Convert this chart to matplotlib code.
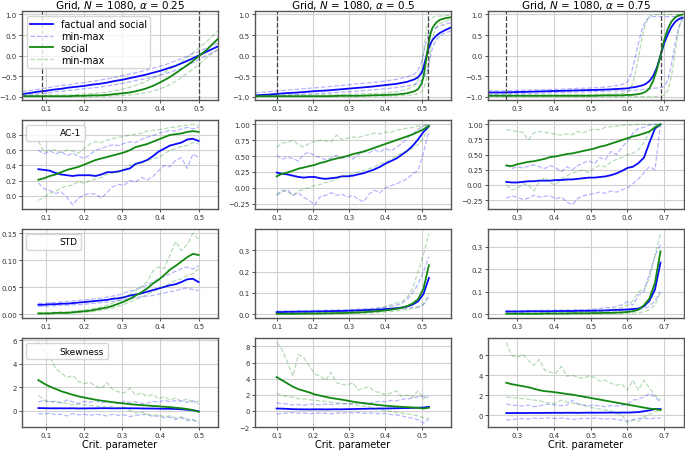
import matplotlib
matplotlib.use("Agg")
import matplotlib.pyplot as plt
import numpy as np
from matplotlib.lines import Line2D

ALPHAS = ["0.25", "0.5", "0.75"]
METRICS = ["AC-1", "STD", "Skewness"]

# x grids (row 1 has its own, rows 2-4 share one per column)
x_top_c1 = [0.037, 0.06, 0.08, 0.1, 0.12, 0.14, 0.16, 0.18, 0.2, 0.22, 0.24, 0.26, 0.28,
            0.3, 0.32, 0.34, 0.36, 0.38, 0.4, 0.42, 0.44, 0.46, 0.48, 0.5, 0.52, 0.55]
x_top_c2 = [0.04, 0.08, 0.12, 0.16, 0.2, 0.24, 0.28, 0.32, 0.36, 0.4, 0.43, 0.46, 0.48,
            0.49, 0.5, 0.505, 0.51, 0.515, 0.52, 0.525, 0.53, 0.54, 0.55, 0.565, 0.58]
x_top_c3 = [0.22, 0.26, 0.3, 0.34, 0.38, 0.42, 0.46, 0.5, 0.54, 0.58, 0.6, 0.61, 0.62,
            0.63, 0.64, 0.65, 0.66, 0.67, 0.68, 0.69, 0.7, 0.71, 0.72, 0.73, 0.74, 0.75]
x_c1 = np.linspace(0.08, 0.5, 29)
x_c2 = np.linspace(0.1, 0.52, 29)
x_c3 = np.linspace(0.27, 0.69, 29)

# critical points (dashed verticals in the top row)
crit_c1 = [0.09, 0.5]
crit_c2 = [0.1, 0.517]
crit_c3 = [0.27, 0.692]

# ---- column 1, alpha = 0.25 ----
c1_state_fs = [-0.94, -0.91, -0.88, -0.86, -0.83, -0.81, -0.78, -0.76, -0.74, -0.71, -0.69, -0.66, -0.62,
               -0.59, -0.55, -0.51, -0.47, -0.42, -0.37, -0.31, -0.25, -0.17, -0.09, 0.0, 0.09, 0.22]
c1_state_fs_hi = [-0.88, -0.85, -0.82, -0.79, -0.76, -0.73, -0.71, -0.68, -0.66, -0.63, -0.6, -0.57, -0.53,
                  -0.49, -0.45, -0.41, -0.36, -0.31, -0.26, -0.2, -0.13, -0.06, 0.03, 0.1, 0.18, 0.3]
c1_state_fs_lo = [-0.98, -0.96, -0.93, -0.92, -0.89, -0.87, -0.85, -0.83, -0.81, -0.79, -0.77, -0.74, -0.71,
                  -0.68, -0.64, -0.6, -0.57, -0.52, -0.48, -0.42, -0.36, -0.29, -0.2, -0.1, 0.0, 0.13]
c1_state_s = [-0.99, -0.99, -0.99, -0.99, -0.99, -0.99, -0.99, -0.98, -0.98, -0.97, -0.97, -0.96, -0.94,
              -0.92, -0.9, -0.86, -0.81, -0.74, -0.65, -0.55, -0.43, -0.3, -0.17, -0.02, 0.13, 0.4]
c1_state_s_hi = [-0.97, -0.97, -0.97, -0.97, -0.96, -0.96, -0.96, -0.95, -0.94, -0.93, -0.91, -0.89, -0.86,
                 -0.82, -0.77, -0.71, -0.64, -0.55, -0.46, -0.36, -0.25, -0.12, 0.02, 0.18, 0.33, 0.6]
c1_state_s_lo = [-1.0, -1.0, -1.0, -1.0, -1.0, -1.0, -1.0, -1.0, -1.0, -1.0, -0.99, -0.99, -0.98,
                 -0.97, -0.96, -0.94, -0.91, -0.87, -0.81, -0.73, -0.63, -0.5, -0.37, -0.22, -0.06, 0.15]

c1_ac1_fs = [0.35, 0.34, 0.33, 0.30, 0.28, 0.27, 0.26, 0.27, 0.27, 0.27, 0.26, 0.28, 0.31, 0.31, 0.32,
             0.34, 0.36, 0.42, 0.44, 0.47, 0.52, 0.58, 0.62, 0.66, 0.68, 0.70, 0.74, 0.75, 0.72]
c1_ac1_fs_hi = [0.6, 0.55, 0.59, 0.55, 0.58, 0.53, 0.56, 0.52, 0.49, 0.54, 0.60, 0.62, 0.65, 0.67, 0.66,
                0.69, 0.71, 0.70, 0.74, 0.77, 0.79, 0.82, 0.84, 0.86, 0.85, 0.88, 0.90, 0.88, 0.9]
c1_ac1_fs_lo = [0.17, 0.09, 0.07, 0.03, 0.05, -0.02, -0.12, -0.03, 0.01, 0.03, 0.02, -0.03, 0.04, 0.12, 0.15,
                0.14, 0.2, 0.18, 0.24, 0.21, 0.25, 0.33, 0.4, 0.38, 0.47, 0.5, 0.36, 0.55, 0.5]
c1_ac1_s = [0.21, 0.23, 0.26, 0.28, 0.31, 0.34, 0.36, 0.38, 0.41, 0.44, 0.47, 0.49, 0.51, 0.53, 0.55,
            0.57, 0.60, 0.64, 0.66, 0.68, 0.71, 0.74, 0.77, 0.80, 0.81, 0.82, 0.84, 0.85, 0.84]
c1_ac1_s_hi = [0.72, 0.58, 0.6, 0.6, 0.57, 0.6, 0.59, 0.56, 0.62, 0.68, 0.71, 0.70, 0.73, 0.75, 0.77,
               0.78, 0.80, 0.81, 0.82, 0.85, 0.86, 0.87, 0.88, 0.90, 0.90, 0.92, 0.93, 0.94, 0.92]
c1_ac1_s_lo = [-0.06, -0.02, 0.03, 0.06, 0.1, 0.13, 0.14, 0.19, 0.16, 0.2, 0.22, 0.24, 0.28, 0.3, 0.31,
               0.35, 0.4, 0.42, 0.43, 0.46, 0.49, 0.5, 0.55, 0.6, 0.62, 0.65, 0.66, 0.7, 0.68]

c1_std_fs = [0.018, 0.018, 0.019, 0.019, 0.020, 0.020, 0.021, 0.022, 0.023, 0.024, 0.025, 0.026, 0.027, 0.029, 0.030,
             0.032, 0.035, 0.037, 0.039, 0.042, 0.045, 0.048, 0.051, 0.054, 0.056, 0.060, 0.065, 0.066, 0.060]
c1_std_fs_hi = [0.021, 0.020, 0.022, 0.022, 0.023, 0.024, 0.025, 0.026, 0.027, 0.028, 0.029, 0.030, 0.032, 0.034, 0.036,
                0.040, 0.043, 0.046, 0.050, 0.055, 0.060, 0.066, 0.070, 0.075, 0.080, 0.085, 0.088, 0.084, 0.090]
c1_std_fs_lo = [0.015, 0.015, 0.016, 0.016, 0.017, 0.017, 0.018, 0.018, 0.019, 0.020, 0.021, 0.022, 0.023, 0.024, 0.026,
                0.028, 0.029, 0.031, 0.033, 0.034, 0.035, 0.038, 0.040, 0.042, 0.044, 0.047, 0.049, 0.046, 0.044]
c1_std_s = [0.002, 0.002, 0.002, 0.003, 0.003, 0.003, 0.004, 0.005, 0.006, 0.007, 0.009, 0.011, 0.013, 0.016, 0.020,
            0.024, 0.029, 0.035, 0.041, 0.048, 0.057, 0.064, 0.073, 0.083, 0.090, 0.098, 0.106, 0.112, 0.110]
c1_std_s_hi = [0.003, 0.003, 0.004, 0.004, 0.005, 0.005, 0.006, 0.007, 0.008, 0.010, 0.012, 0.014, 0.017, 0.021, 0.026,
               0.031, 0.037, 0.045, 0.052, 0.060, 0.080, 0.088, 0.085, 0.110, 0.135, 0.118, 0.130, 0.150, 0.140]
c1_std_s_lo = [0.001, 0.001, 0.001, 0.002, 0.002, 0.002, 0.003, 0.003, 0.004, 0.005, 0.006, 0.008, 0.010, 0.012, 0.015,
               0.019, 0.023, 0.028, 0.032, 0.037, 0.042, 0.047, 0.052, 0.058, 0.063, 0.066, 0.072, 0.075, 0.085]

c1_skew_fs = [0.22, 0.21, 0.2, 0.2, 0.2, 0.2, 0.2, 0.19, 0.19, 0.2, 0.2, 0.21, 0.21, 0.2, 0.2,
              0.21, 0.2, 0.2, 0.19, 0.18, 0.18, 0.17, 0.16, 0.16, 0.14, 0.12, 0.08, 0.03, -0.05]
c1_skew_fs_hi = [0.75, 0.85, 0.7, 0.8, 0.65, 0.9, 0.75, 0.6, 0.8, 0.7, 0.85, 0.65, 0.75, 0.7, 0.6,
                 0.8, 0.7, 0.75, 0.6, 0.65, 0.8, 0.7, 0.9, 0.75, 0.85, 0.8, 0.7, 0.85, 0.55]
c1_skew_fs_lo = [-0.25, -0.3, -0.2, -0.35, -0.3, -0.45, -0.25, -0.35, -0.3, -0.4, -0.3, -0.35, -0.45, -0.3, -0.4,
                 -0.35, -0.5, -0.4, -0.35, -0.3, -0.5, -0.45, -0.6, -0.55, -0.75, -0.6, -0.85, -0.75, -1.05]
c1_skew_s = [2.6, 2.3, 2.05, 1.85, 1.65, 1.5, 1.35, 1.22, 1.12, 1.02, 0.93, 0.85, 0.79, 0.72, 0.66,
             0.61, 0.55, 0.51, 0.47, 0.44, 0.4, 0.37, 0.33, 0.3, 0.25, 0.2, 0.14, 0.05, -0.1]
c1_skew_s_hi = [5.8, 5.0, 4.6, 3.6, 3.2, 2.8, 3.0, 2.5, 2.3, 2.4, 2.1, 1.9, 2.4, 1.8, 1.6,
                1.5, 1.9, 1.3, 1.5, 1.2, 1.4, 1.0, 1.2, 0.9, 1.1, 0.8, 1.0, 0.7, 0.8]
c1_skew_s_lo = [1.3, 0.9, 0.8, 0.75, 0.7, 0.6, 0.5, 0.55, 0.5, 0.45, 0.4, 0.35, 0.3, 0.35, 0.25,
                0.3, 0.0, -0.2, -0.1, -0.3, -0.4, -0.35, -0.5, -0.45, -0.6, -0.55, -0.7, -0.8, -0.95]

# ---- column 2, alpha = 0.5 ----
c2_state_fs = [-0.97, -0.95, -0.92, -0.9, -0.87, -0.85, -0.82, -0.79, -0.76, -0.72, -0.69, -0.64, -0.58,
               -0.53, -0.42, -0.3, -0.12, 0.05, 0.2, 0.3, 0.38, 0.48, 0.55, 0.62, 0.68]
c2_state_fs_hi = [-0.91, -0.88, -0.85, -0.82, -0.79, -0.76, -0.73, -0.69, -0.66, -0.62, -0.58, -0.52, -0.45,
                  -0.36, -0.15, 0.05, 0.25, 0.42, 0.52, 0.58, 0.62, 0.68, 0.72, 0.76, 0.8]
c2_state_fs_lo = [-1.0, -0.99, -0.97, -0.95, -0.93, -0.91, -0.89, -0.87, -0.84, -0.81, -0.78, -0.74, -0.7,
                  -0.66, -0.6, -0.55, -0.48, -0.38, -0.2, 0.0, 0.2, 0.38, 0.48, 0.55, 0.6]
c2_state_s = [-0.99, -0.99, -0.99, -0.99, -0.99, -0.99, -0.98, -0.98, -0.97, -0.96, -0.95, -0.92, -0.87,
              -0.82, -0.68, -0.52, -0.25, 0.05, 0.35, 0.55, 0.68, 0.8, 0.87, 0.91, 0.93]
c2_state_s_hi = [-0.97, -0.97, -0.97, -0.96, -0.96, -0.95, -0.95, -0.94, -0.93, -0.91, -0.88, -0.82, -0.74,
                 -0.6, -0.3, 0.05, 0.45, 0.72, 0.85, 0.9, 0.93, 0.95, 0.96, 0.97, 0.98]
c2_state_s_lo = [-1.0, -1.0, -1.0, -1.0, -1.0, -1.0, -1.0, -1.0, -0.99, -0.99, -0.98, -0.97, -0.95,
                 -0.93, -0.88, -0.82, -0.7, -0.45, -0.1, 0.2, 0.45, 0.68, 0.78, 0.84, 0.87]

c2_ac1_fs = [0.24, 0.22, 0.21, 0.19, 0.17, 0.16, 0.17, 0.17, 0.15, 0.14, 0.15, 0.16, 0.18, 0.18, 0.19,
             0.21, 0.23, 0.26, 0.29, 0.33, 0.38, 0.42, 0.46, 0.52, 0.58, 0.66, 0.76, 0.88, 0.97]
c2_ac1_fs_hi = [0.51, 0.45, 0.48, 0.46, 0.42, 0.53, 0.56, 0.50, 0.48, 0.44, 0.47, 0.51, 0.46, 0.50, 0.45,
                0.52, 0.58, 0.55, 0.60, 0.56, 0.62, 0.58, 0.63, 0.70, 0.78, 0.85, 0.92, 0.97, 1.0]
c2_ac1_fs_lo = [-0.12, -0.06, -0.03, -0.12, -0.08, -0.15, -0.2, -0.27, -0.14, -0.12, -0.08, -0.12, -0.1, -0.15, -0.12,
                -0.18, -0.22, -0.1, -0.04, -0.08, 0.0, 0.03, 0.06, 0.1, 0.14, 0.22, 0.27, 0.55, 0.9]
c2_ac1_s = [0.18, 0.22, 0.24, 0.27, 0.30, 0.32, 0.34, 0.36, 0.39, 0.41, 0.44, 0.46, 0.48, 0.50, 0.53,
            0.55, 0.57, 0.60, 0.63, 0.66, 0.69, 0.72, 0.75, 0.78, 0.81, 0.84, 0.88, 0.92, 0.98]
c2_ac1_s_hi = [0.64, 0.70, 0.72, 0.75, 0.68, 0.64, 0.70, 0.73, 0.75, 0.74, 0.72, 0.83, 0.76, 0.78, 0.80,
               0.79, 0.82, 0.84, 0.86, 0.85, 0.88, 0.87, 0.91, 0.92, 0.94, 0.95, 0.97, 0.98, 1.0]
c2_ac1_s_lo = [-0.11, -0.04, -0.06, -0.12, -0.05, -0.02, 0.0, 0.04, 0.05, 0.08, 0.10, 0.14, 0.18, 0.20, 0.22,
               0.25, 0.27, 0.30, 0.33, 0.38, 0.40, 0.45, 0.50, 0.55, 0.58, 0.62, 0.68, 0.78, 0.97]

c2_std_fs = [0.010, 0.010, 0.011, 0.011, 0.012, 0.012, 0.012, 0.013, 0.013, 0.014, 0.014, 0.015, 0.015, 0.016, 0.017,
             0.018, 0.019, 0.020, 0.021, 0.022, 0.024, 0.026, 0.028, 0.031, 0.036, 0.045, 0.06, 0.095, 0.17]
c2_std_fs_hi = [0.014, 0.014, 0.015, 0.015, 0.016, 0.016, 0.017, 0.017, 0.018, 0.018, 0.019, 0.02, 0.02, 0.021, 0.022,
                0.023, 0.025, 0.026, 0.028, 0.03, 0.033, 0.038, 0.042, 0.05, 0.07, 0.1, 0.14, 0.2, 0.27]
c2_std_fs_lo = [0.007, 0.007, 0.007, 0.008, 0.008, 0.008, 0.009, 0.009, 0.010, 0.010, 0.011, 0.011, 0.012, 0.012, 0.013,
                0.014, 0.015, 0.016, 0.017, 0.018, 0.02, 0.022, 0.024, 0.026, 0.028, 0.032, 0.035, 0.045, 0.08]
c2_std_s = [0.002, 0.002, 0.002, 0.002, 0.002, 0.003, 0.003, 0.003, 0.003, 0.004, 0.004, 0.005, 0.005, 0.006, 0.007,
            0.008, 0.009, 0.011, 0.013, 0.015, 0.018, 0.021, 0.025, 0.03, 0.038, 0.05, 0.07, 0.12, 0.23]
c2_std_s_hi = [0.003, 0.003, 0.003, 0.004, 0.004, 0.004, 0.005, 0.005, 0.006, 0.006, 0.007, 0.008, 0.009, 0.01, 0.012,
               0.014, 0.016, 0.018, 0.022, 0.03, 0.035, 0.045, 0.052, 0.058, 0.08, 0.12, 0.2, 0.28, 0.38]
c2_std_s_lo = [0.001, 0.001, 0.001, 0.001, 0.001, 0.001, 0.001, 0.002, 0.002, 0.002, 0.002, 0.003, 0.003, 0.003, 0.004,
               0.004, 0.005, 0.006, 0.007, 0.008, 0.01, 0.012, 0.015, 0.018, 0.022, 0.027, 0.03, 0.045, 0.1]

c2_skew_fs = [0.3, 0.28, 0.25, 0.22, 0.2, 0.2, 0.19, 0.2, 0.2, 0.19, 0.2, 0.21, 0.2, 0.22, 0.23,
              0.25, 0.26, 0.28, 0.28, 0.3, 0.3, 0.32, 0.33, 0.35, 0.36, 0.38, 0.4, 0.42, 0.5]
c2_skew_fs_hi = [1.0, 0.9, 0.85, 0.75, 0.8, 0.7, 0.85, 0.8, 0.75, 0.85, 0.8, 0.9, 0.85, 0.95, 0.9,
                 1.0, 1.05, 0.95, 1.1, 1.2, 1.15, 1.3, 1.25, 1.45, 1.5, 1.6, 1.75, 1.8, 1.7]
c2_skew_fs_lo = [-0.4, -0.3, -0.25, -0.2, -0.3, -0.25, -0.35, -0.3, -0.25, -0.3, -0.35, -0.25, -0.3, -0.2, -0.25,
                 -0.2, -0.3, -0.25, -0.3, -0.35, -0.3, -0.45, -0.5, -0.6, -0.8, -0.9, -1.1, -1.5, -1.0]
c2_skew_s = [4.2, 3.8, 3.4, 3.0, 2.7, 2.5, 2.3, 2.05, 1.9, 1.75, 1.6, 1.5, 1.4, 1.28, 1.15,
             1.05, 0.95, 0.88, 0.8, 0.72, 0.65, 0.6, 0.55, 0.5, 0.47, 0.43, 0.38, 0.3, 0.4]
c2_skew_s_hi = [8.5, 7.6, 6.0, 4.3, 7.0, 6.6, 5.6, 4.6, 4.3, 3.8, 4.8, 3.5, 3.3, 3.2, 3.5,
                2.6, 2.8, 3.0, 2.4, 2.3, 2.0, 2.2, 2.5, 1.8, 2.0, 1.7, 2.5, 1.5, 1.8]
c2_skew_s_lo = [2.2, 1.9, 1.8, 1.7, 1.5, 1.5, 1.4, 1.3, 1.25, 1.2, 1.1, 1.0, 0.95, 0.85, 0.8,
                0.7, 0.6, 0.5, 0.3, 0.2, 0.0, -0.05, -0.2, -0.3, -0.35, -0.5, -0.6, -0.85, -0.9]

# ---- column 3, alpha = 0.75 ----
c3_state_fs = [-0.9, -0.9, -0.89, -0.88, -0.87, -0.86, -0.85, -0.84, -0.83, -0.81, -0.8, -0.78, -0.77,
               -0.75, -0.73, -0.69, -0.62, -0.5, -0.3, 0.0, 0.3, 0.52, 0.7, 0.82, 0.89, 0.92]
c3_state_fs_hi = [-0.86, -0.86, -0.85, -0.84, -0.83, -0.82, -0.8, -0.79, -0.77, -0.72, -0.65, -0.45, -0.1,
                  0.3, 0.65, 0.85, 0.93, 0.95, 0.95, 0.95, 0.95, 0.95, 0.95, 0.95, 0.95, 0.95]
c3_state_fs_lo = [-0.95, -0.94, -0.93, -0.92, -0.91, -0.9, -0.89, -0.88, -0.87, -0.86, -0.86, -0.85, -0.84,
                  -0.84, -0.83, -0.82, -0.81, -0.8, -0.79, -0.78, -0.76, -0.6, -0.2, 0.3, 0.7, 0.9]
c3_state_s = [-0.98, -0.98, -0.98, -0.98, -0.98, -0.98, -0.98, -0.98, -0.97, -0.97, -0.96, -0.96, -0.95,
              -0.94, -0.92, -0.88, -0.8, -0.62, -0.35, 0.0, 0.38, 0.65, 0.83, 0.93, 0.98, 1.0]
c3_state_s_hi = [-0.96, -0.96, -0.96, -0.96, -0.96, -0.96, -0.95, -0.95, -0.94, -0.93, -0.9, -0.78, -0.5,
                 -0.05, 0.45, 0.8, 0.96, 0.99, 1.0, 1.0, 1.0, 1.0, 1.0, 1.0, 1.0, 1.0]
c3_state_s_lo = [-1.0, -1.0, -1.0, -1.0, -1.0, -1.0, -1.0, -1.0, -1.0, -1.0, -1.0, -1.0, -1.0,
                 -1.0, -1.0, -1.0, -1.0, -1.0, -1.0, -0.99, -0.96, -0.85, -0.5, 0.1, 0.65, 0.95]

c3_ac1_fs = [0.05, 0.04, 0.04, 0.05, 0.06, 0.06, 0.07, 0.07, 0.07, 0.08, 0.08, 0.09, 0.09, 0.10, 0.11,
             0.12, 0.12, 0.13, 0.14, 0.16, 0.19, 0.23, 0.28, 0.30, 0.36, 0.45, 0.70, 0.93, 1.0]
c3_ac1_fs_hi = [0.33, 0.27, 0.30, 0.28, 0.31, 0.33, 0.30, 0.27, 0.32, 0.28, 0.22, 0.30, 0.25, 0.32, 0.36,
                0.40, 0.35, 0.45, 0.42, 0.55, 0.50, 0.62, 0.72, 0.85, 0.93, 0.95, 0.99, 1.0, 1.0]
c3_ac1_fs_lo = [-0.22, -0.18, -0.2, -0.24, -0.22, -0.17, -0.2, -0.19, -0.18, -0.23, -0.2, -0.28, -0.33, -0.22, -0.18,
                -0.16, -0.14, -0.12, -0.14, -0.1, -0.12, -0.08, -0.05, 0.02, 0.1, 0.2, 0.3, 0.25, 1.0]
c3_ac1_s = [0.32, 0.31, 0.34, 0.36, 0.38, 0.39, 0.41, 0.43, 0.46, 0.47, 0.49, 0.51, 0.52, 0.54, 0.56,
            0.58, 0.60, 0.63, 0.65, 0.68, 0.71, 0.74, 0.77, 0.80, 0.82, 0.85, 0.88, 0.95, 1.0]
c3_ac1_s_hi = [0.91, 0.90, 0.88, 0.87, 0.74, 0.86, 0.88, 0.87, 0.85, 0.84, 0.82, 0.84, 0.83, 0.88, 0.86,
               0.90, 0.92, 0.91, 0.95, 0.96, 0.97, 0.98, 0.99, 0.99, 1.0, 1.0, 1.0, 1.0, 1.0]
c3_ac1_s_lo = [0.0, -0.08, -0.06, 0.02, 0.0, -0.1, 0.05, 0.12, 0.03, 0.0, 0.1, 0.15, 0.2, 0.22, 0.25,
               0.2, 0.28, 0.32, 0.3, 0.38, 0.42, 0.45, 0.5, 0.52, 0.58, 0.7, 0.88, 0.97, 1.0]

c3_std_fs = [0.012, 0.012, 0.012, 0.012, 0.013, 0.013, 0.013, 0.013, 0.013, 0.014, 0.014, 0.014, 0.014, 0.015, 0.015,
             0.015, 0.016, 0.016, 0.017, 0.018, 0.019, 0.02, 0.021, 0.023, 0.025, 0.035, 0.06, 0.11, 0.23]
c3_std_fs_hi = [0.015, 0.015, 0.015, 0.016, 0.016, 0.016, 0.017, 0.017, 0.017, 0.018, 0.018, 0.019, 0.019, 0.02, 0.02,
                0.021, 0.022, 0.025, 0.03, 0.028, 0.035, 0.042, 0.055, 0.04, 0.085, 0.1, 0.18, 0.26, 0.31]
c3_std_fs_lo = [0.009, 0.009, 0.009, 0.009, 0.01, 0.01, 0.01, 0.01, 0.01, 0.01, 0.011, 0.011, 0.011, 0.011, 0.012,
                0.012, 0.012, 0.013, 0.013, 0.014, 0.015, 0.015, 0.016, 0.018, 0.02, 0.025, 0.035, 0.06, 0.1]
c3_std_s = [0.002, 0.002, 0.002, 0.002, 0.002, 0.002, 0.002, 0.003, 0.003, 0.003, 0.003, 0.003, 0.004, 0.004, 0.004,
            0.004, 0.005, 0.005, 0.006, 0.006, 0.007, 0.008, 0.01, 0.013, 0.02, 0.04, 0.07, 0.14, 0.28]
c3_std_s_hi = [0.003, 0.003, 0.003, 0.003, 0.004, 0.004, 0.004, 0.005, 0.005, 0.005, 0.006, 0.006, 0.007, 0.008, 0.009,
               0.01, 0.012, 0.014, 0.017, 0.02, 0.025, 0.03, 0.04, 0.06, 0.1, 0.11, 0.16, 0.26, 0.36]
c3_std_s_lo = [0.001, 0.001, 0.001, 0.001, 0.001, 0.001, 0.001, 0.001, 0.001, 0.001, 0.001, 0.001, 0.001, 0.001, 0.001,
               0.001, 0.001, 0.001, 0.001, 0.001, 0.002, 0.003, 0.004, 0.005, 0.007, 0.01, 0.02, 0.04, 0.1]

c3_skew_fs = [0.2, 0.2, 0.21, 0.2, 0.21, 0.22, 0.21, 0.22, 0.22, 0.23, 0.22, 0.23, 0.23, 0.22, 0.23,
              0.24, 0.23, 0.24, 0.24, 0.25, 0.24, 0.25, 0.25, 0.27, 0.3, 0.38, 0.47, 0.6, 0.6]
c3_skew_fs_hi = [1.1, 1.0, 0.95, 0.9, 1.0, 0.85, 0.9, 1.05, 1.1, 1.0, 0.95, 1.0, 1.5, 1.1, 1.0,
                 0.95, 1.0, 0.9, 0.85, 0.95, 0.9, 1.0, 1.1, 1.5, 1.6, 1.8, 2.2, 1.8, 1.3]
c3_skew_fs_lo = [-0.5, -0.45, -0.4, -0.35, -0.4, -0.3, -0.35, -0.3, -0.3, -0.35, -0.3, -0.35, -0.45, -0.4, -0.3,
                 -0.35, -0.3, -0.35, -0.4, -0.35, -0.45, -0.5, -0.6, -0.45, -0.35, -0.3, -0.4, -0.3, -0.3]
c3_skew_s = [3.25, 3.1, 3.0, 2.9, 2.8, 2.65, 2.5, 2.4, 2.35, 2.28, 2.2, 2.12, 2.05, 1.95, 1.85,
             1.75, 1.65, 1.55, 1.45, 1.35, 1.25, 1.15, 1.05, 0.95, 0.85, 0.75, 0.65, 0.6, 0.5]
c3_skew_s_hi = [7.3, 6.0, 5.8, 6.1, 5.5, 5.0, 5.6, 4.5, 4.3, 4.2, 4.9, 3.9, 4.0, 3.8, 3.7,
                3.9, 3.8, 3.4, 3.5, 3.2, 3.0, 3.1, 2.5, 3.5, 2.5, 3.5, 2.7, 2.0, 1.5]
c3_skew_s_lo = [1.8, 1.75, 1.7, 1.65, 1.6, 1.5, 1.45, 1.3, 1.2, 1.2, 1.5, 1.3, 1.2, 1.1, 1.0,
                0.8, 0.7, 0.6, 0.5, 0.4, 0.2, 0.0, -0.8, -0.5, -0.6, -0.2, 0.1, 0.3, 0.5]

BLUE = "#0a0aff"
GREEN = "#118811"

columns = [
    dict(x_top=x_top_c1, x=x_c1, crit=crit_c1, xlim=(0.037, 0.55),
         state=(c1_state_fs, c1_state_fs_lo, c1_state_fs_hi, c1_state_s, c1_state_s_lo, c1_state_s_hi),
         rows=[(c1_ac1_fs, c1_ac1_fs_lo, c1_ac1_fs_hi, c1_ac1_s, c1_ac1_s_lo, c1_ac1_s_hi),
               (c1_std_fs, c1_std_fs_lo, c1_std_fs_hi, c1_std_s, c1_std_s_lo, c1_std_s_hi),
               (c1_skew_fs, c1_skew_fs_lo, c1_skew_fs_hi, c1_skew_s, c1_skew_s_lo, c1_skew_s_hi)]),
    dict(x_top=x_top_c2, x=x_c2, crit=crit_c2, xlim=(0.04, 0.58),
         state=(c2_state_fs, c2_state_fs_lo, c2_state_fs_hi, c2_state_s, c2_state_s_lo, c2_state_s_hi),
         rows=[(c2_ac1_fs, c2_ac1_fs_lo, c2_ac1_fs_hi, c2_ac1_s, c2_ac1_s_lo, c2_ac1_s_hi),
               (c2_std_fs, c2_std_fs_lo, c2_std_fs_hi, c2_std_s, c2_std_s_lo, c2_std_s_hi),
               (c2_skew_fs, c2_skew_fs_lo, c2_skew_fs_hi, c2_skew_s, c2_skew_s_lo, c2_skew_s_hi)]),
    dict(x_top=x_top_c3, x=x_c3, crit=crit_c3, xlim=(0.22, 0.753),
         state=(c3_state_fs, c3_state_fs_lo, c3_state_fs_hi, c3_state_s, c3_state_s_lo, c3_state_s_hi),
         rows=[(c3_ac1_fs, c3_ac1_fs_lo, c3_ac1_fs_hi, c3_ac1_s, c3_ac1_s_lo, c3_ac1_s_hi),
               (c3_std_fs, c3_std_fs_lo, c3_std_fs_hi, c3_std_s, c3_std_s_lo, c3_std_s_hi),
               (c3_skew_fs, c3_skew_fs_lo, c3_skew_fs_hi, c3_skew_s, c3_skew_s_lo, c3_skew_s_hi)]),
]


def draw(ax, x, series):
    fs, fs_lo, fs_hi, s, s_lo, s_hi = series
    for band in (fs_lo, fs_hi):
        ax.plot(x, band, color=BLUE, ls="--", lw=0.9, alpha=0.3)
    ax.plot(x, fs, color=BLUE, lw=1.3)
    for band in (s_lo, s_hi):
        ax.plot(x, band, color=GREEN, ls="--", lw=0.9, alpha=0.3)
    ax.plot(x, s, color=GREEN, lw=1.3)


def style(ax):
    ax.grid(True, color="#d0d0d0", lw=0.8)
    ax.set_axisbelow(True)
    for sp in ax.spines.values():
        sp.set_color("#555555")
        sp.set_linewidth(1.0)
    ax.tick_params(labelsize=5, length=2.5, width=0.6, colors="#333333", pad=1.2)


fig, axes = plt.subplots(4, 3, figsize=(6.85, 4.52), dpi=100)
fig.subplots_adjust(left=0.032, right=0.998, top=0.973, bottom=0.053, wspace=0.19, hspace=0.23)

for j, col in enumerate(columns):
    ax = axes[0, j]
    draw(ax, col["x_top"], col["state"])
    for xc in col["crit"]:
        ax.axvline(xc, color="#444444", ls="--", lw=0.9)
    ax.set_ylim(-1.08, 1.08)
    ax.set_yticks([-1.0, -0.5, 0.0, 0.5, 1.0])
    ax.set_title(f"Grid, $N$ = 1080, $\\alpha$ = {ALPHAS[j]}", fontsize=7.5, pad=2.5)
    for i in range(3):
        draw(axes[i + 1, j], col["x"], col["rows"][i])
    for i in range(4):
        axes[i, j].set_xlim(*col["xlim"])
        style(axes[i, j])
    axes[3, j].set_xlabel("Crit. parameter", fontsize=7, labelpad=0.5)

handles = [Line2D([], [], color=BLUE, lw=1.3),
           Line2D([], [], color=BLUE, ls="--", lw=0.9, alpha=0.3),
           Line2D([], [], color=GREEN, lw=1.3),
           Line2D([], [], color=GREEN, ls="--", lw=0.9, alpha=0.3)]
axes[0, 0].legend(handles, ["factual and social", "min-max", "social", "min-max"],
                  loc="upper left", fontsize=7, handlelength=2.4, labelspacing=0.2,
                  borderpad=0.3, framealpha=0.8)
for i, name in enumerate(METRICS):
    axes[i + 1, 0].legend([Line2D([], [], ls="none")], [name], loc="upper left",
                          fontsize=6.5, handlelength=2.5, borderpad=0.4)

fig.savefig("out.png", dpi=100)
